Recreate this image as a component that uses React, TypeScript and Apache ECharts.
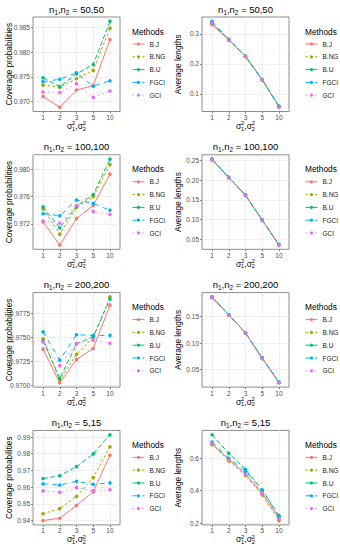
import React, { useEffect, useRef } from 'react';
import * as echarts from 'echarts';

const categories = ['1', '2', '3', '5', '10'];
const methods = ['B.J', 'B.NG', 'B.U', 'FGCI', 'GCI'];
const colors = ['#F8766D', '#A3A500', '#00BF7D', '#00B0F6', '#E76BF3'];
const dashes: any[] = ['solid', [2.4, 2.4], [4.8, 2.4], [4.8, 4.8], [1.2, 3.6]];

// Coverage probabilities (rows follow methods order)
const cp_50_50 = [
  [0.9710, 0.9688, 0.9723, 0.9732, 0.9826],
  [0.9733, 0.9729, 0.9746, 0.9763, 0.9849],
  [0.9748, 0.9730, 0.9756, 0.9775, 0.9863],
  [0.9740, 0.9745, 0.9758, 0.9731, 0.9742],
  [0.9719, 0.9718, 0.9736, 0.9708, 0.9721],
];
const cp_100_100 = [
  [0.9723, 0.9689, 0.9728, 0.9747, 0.9793],
  [0.9742, 0.9705, 0.9744, 0.9760, 0.9807],
  [0.9745, 0.9714, 0.9746, 0.9763, 0.9815],
  [0.9735, 0.9732, 0.9755, 0.9750, 0.9740],
  [0.9724, 0.9721, 0.9747, 0.9738, 0.9734],
];
const cp_200_200 = [
  [0.97375, 0.97025, 0.97268, 0.97382, 0.97832],
  [0.97482, 0.97054, 0.97321, 0.97495, 0.97918],
  [0.97464, 0.97071, 0.97429, 0.97505, 0.97893],
  [0.97554, 0.97261, 0.97525, 0.97518, 0.97518],
  [0.97450, 0.97204, 0.97436, 0.97468, 0.97436],
];
const cp_5_15 = [
  [0.9400, 0.9414, 0.9491, 0.9572, 0.9791],
  [0.9441, 0.9472, 0.9544, 0.9657, 0.9842],
  [0.9652, 0.9668, 0.9723, 0.9799, 0.9914],
  [0.9620, 0.9613, 0.9635, 0.9617, 0.9626],
  [0.9578, 0.9569, 0.9597, 0.9578, 0.9585],
];
// Average lengths
const al_50_50 = [
  [0.331, 0.280, 0.224, 0.147, 0.058],
  [0.333, 0.281, 0.225, 0.148, 0.059],
  [0.337, 0.282, 0.226, 0.148, 0.058],
  [0.342, 0.281, 0.225, 0.147, 0.059],
  [0.335, 0.280, 0.225, 0.147, 0.056],
];
const al_100_100 = [
  [0.251, 0.206, 0.161, 0.098, 0.036],
  [0.252, 0.206, 0.162, 0.099, 0.037],
  [0.253, 0.207, 0.162, 0.099, 0.037],
  [0.253, 0.207, 0.162, 0.099, 0.037],
  [0.252, 0.206, 0.161, 0.098, 0.036],
];
const al_200_200 = [
  [0.186, 0.153, 0.119, 0.071, 0.025],
  [0.186, 0.153, 0.119, 0.071, 0.026],
  [0.187, 0.153, 0.119, 0.072, 0.026],
  [0.187, 0.153, 0.119, 0.072, 0.026],
  [0.186, 0.153, 0.119, 0.071, 0.025],
];
const al_5_15 = [
  [0.688, 0.594, 0.505, 0.383, 0.232],
  [0.684, 0.583, 0.493, 0.373, 0.215],
  [0.745, 0.630, 0.531, 0.404, 0.246],
  [0.699, 0.600, 0.520, 0.404, 0.242],
  [0.693, 0.589, 0.499, 0.379, 0.225],
];

const yTicks_cp_50_50 = [0.970, 0.975, 0.980, 0.985];
const yTicks_cp_100_100 = [0.972, 0.976, 0.980];
const yTicks_cp_200_200 = [0.9700, 0.9725, 0.9750, 0.9775];
const yTicks_cp_5_15 = [0.94, 0.95, 0.96, 0.97, 0.98, 0.99];
const yTicks_al_50_50 = [0.1, 0.2, 0.3];
const yTicks_al_100_100 = [0.05, 0.10, 0.15, 0.20, 0.25];
const yTicks_al_200_200 = [0.05, 0.10, 0.15];
const yTicks_al_5_15 = [0.2, 0.4, 0.6];

const panelTitles = ['50,50', '100,100', '200,200', '5,15'];

const FONT = '"Liberation Sans", Arial, Helvetica, sans-serif';

const panels = [
  { row: 0, col: 0, data: cp_50_50, ticks: yTicks_cp_50_50, dec: 3 },
  { row: 0, col: 1, data: al_50_50, ticks: yTicks_al_50_50, dec: 1 },
  { row: 1, col: 0, data: cp_100_100, ticks: yTicks_cp_100_100, dec: 3 },
  { row: 1, col: 1, data: al_100_100, ticks: yTicks_al_100_100, dec: 2 },
  { row: 2, col: 0, data: cp_200_200, ticks: yTicks_cp_200_200, dec: 4 },
  { row: 2, col: 1, data: al_200_200, ticks: yTicks_al_200_200, dec: 2 },
  { row: 3, col: 0, data: cp_5_15, ticks: yTicks_cp_5_15, dec: 2 },
  { row: 3, col: 1, data: al_5_15, ticks: yTicks_al_5_15, dec: 1 },
];

function rangeOf(rows: number[][]) {
  const all = rows.flat();
  const lo = Math.min(...all);
  const hi = Math.max(...all);
  const p = (hi - lo) * 0.05;
  return [lo - p, hi + p];
}

function minorsOf(ticks: number[], lo: number, hi: number) {
  const step = ticks[1] - ticks[0];
  const res: number[] = [];
  for (let v = ticks[0] - step / 2; v < hi; v += step) {
    if (v > lo) res.push(+v.toFixed(6));
  }
  return res;
}

function sigmaLabel(cx: number, cy: number) {
  const big = { fontSize: 8.5, fontFamily: FONT, fill: '#000', verticalAlign: 'middle', align: 'left' };
  const small = { fontSize: 5.6, fontFamily: FONT, fill: '#000', verticalAlign: 'middle', align: 'left' };
  const x0 = cx - 9.6;
  return {
    type: 'group',
    silent: true,
    children: [
      { type: 'text', x: x0, y: cy, style: { ...big, text: 'σ' } },
      { type: 'text', x: x0 + 5, y: cy - 2.6, style: { ...small, text: '2' } },
      { type: 'text', x: x0 + 5, y: cy + 2.6, style: { ...small, text: '1' } },
      { type: 'text', x: x0 + 8.3, y: cy, style: { ...big, text: ',' } },
      { type: 'text', x: x0 + 10.8, y: cy, style: { ...big, text: 'σ' } },
      { type: 'text', x: x0 + 15.8, y: cy - 2.6, style: { ...small, text: '2' } },
      { type: 'text', x: x0 + 15.8, y: cy + 2.6, style: { ...small, text: '2' } },
    ],
  };
}

function buildOption() {
  const grids: any[] = [];
  const xAxes: any[] = [];
  const yAxes: any[] = [];
  const series: any[] = [];
  const legends: any[] = [];
  const graphics: any[] = [];
  const catPos = categories.map((_, i) => i + 1);
  const tickLine = { color: '#333333', width: 0.6 };

  panels.forEach((p, k) => {
    const W = 87;
    const H = 94.5;
    const left = p.col === 0 ? 33 : 202;
    const top = 17 + 137.8 * p.row;
    const [lo, hi] = rangeOf(p.data);
    const minors = minorsOf(p.ticks, lo, hi);

    grids.push({
      left, top, width: W, height: H, show: true,
      borderColor: '#6e6e6e', borderWidth: 0.8, backgroundColor: '#ffffff',
      containLabel: false, outerBoundsMode: 'none',
    });
    xAxes.push({
      type: 'value', gridIndex: k, min: 0.4, max: 5.6,
      axisLine: { show: false },
      axisTick: { show: true, length: 2, customValues: catPos, lineStyle: tickLine },
      axisLabel: {
        customValues: catPos,
        formatter: (v: number) => categories[Math.round(v) - 1],
        fontSize: 6.5, color: '#4d4d4d', margin: 2.5, fontFamily: FONT,
      },
      splitLine: { show: true, lineStyle: { color: '#ebebeb', width: 0.8 } },
    });
    yAxes.push({
      type: 'value', gridIndex: k, min: lo, max: hi, position: 'left',
      name: p.col === 0 ? 'Coverage probabilities' : 'Average lengths',
      nameLocation: 'middle', nameRotate: 90, nameGap: 20, nameMoveOverlap: false,
      nameTextStyle: { fontSize: 8.3, color: '#000', fontFamily: FONT },
      axisLine: { show: false },
      axisTick: { show: true, length: 2, customValues: p.ticks, lineStyle: tickLine },
      axisLabel: {
        customValues: p.ticks,
        formatter: (v: number) => v.toFixed(p.dec),
        fontSize: 6.5, color: '#4d4d4d', margin: 3, fontFamily: FONT,
      },
      splitLine: { show: true, lineStyle: { color: '#ebebeb', width: 0.8 } },
    });
    yAxes.push({
      type: 'value', gridIndex: k, min: lo, max: hi, position: 'left',
      axisLine: { show: false },
      axisTick: { show: false, customValues: minors },
      axisLabel: { show: false, customValues: minors },
      splitLine: { show: true, lineStyle: { color: '#f4f4f4', width: 0.5 } },
    });

    methods.forEach((m, j) => {
      series.push({
        type: 'line', name: m, xAxisIndex: k, yAxisIndex: 2 * k,
        data: p.data[j].map((v, i) => [catPos[i], v]),
        symbol: 'circle', symbolSize: 3.6, showSymbol: true,
        lineStyle: { color: colors[j], width: 1, type: dashes[j] },
        itemStyle: { color: colors[j] },
        emphasis: { disabled: true }, silent: true,
      });
    });

    const legLeft = p.col === 0 ? 132 : 305;
    legends.push({
      data: methods, orient: 'vertical', left: legLeft, top: top + 23,
      itemWidth: 12, itemHeight: 4, itemGap: 4.8, padding: 0, selectedMode: false,
      lineStyle: { width: 1 },
      textStyle: { fontSize: 6.5, lineHeight: 8, color: '#1a1a1a', fontFamily: FONT },
    });
    graphics.push({
      type: 'text', x: legLeft, y: top + 14.5, silent: true,
      style: { text: 'Methods', fontSize: 8.3, fontFamily: FONT, fill: '#000', verticalAlign: 'middle', align: 'left' },
    });
    graphics.push({
      type: 'text', x: left + W / 2, y: top - 8, silent: true,
      style: {
        text: `{n|n}{s|1}{n|,n}{s|2}{n| = ${panelTitles[p.row]}}`,
        align: 'center', verticalAlign: 'middle', fill: '#000',
        rich: {
          n: { fontSize: 9.5, lineHeight: 12, fontFamily: FONT, fill: '#000' },
          s: { fontSize: 6.3, lineHeight: 6, verticalAlign: 'bottom', fontFamily: FONT, fill: '#000' },
        },
      },
    });
    graphics.push(sigmaLabel(left + W / 2, top + H + 14.5));
  });

  return {
    animation: false,
    backgroundColor: '#ffffff',
    textStyle: { fontFamily: FONT },
    grid: grids,
    xAxis: xAxes,
    yAxis: yAxes,
    series,
    legend: legends,
    graphic: { elements: graphics },
  };
}

export default function App() {
  const ref = useRef<HTMLDivElement>(null);
  useEffect(() => {
    if (!ref.current) return;
    const chart = echarts.init(ref.current, null, { renderer: 'svg' });
    chart.setOption(buildOption() as any);
    return () => chart.dispose();
  }, []);
  return (
    <div
      ref={ref}
      style={{ position: 'fixed', left: 0, top: 0, width: 340, height: 550, background: '#fff' }}
    />
  );
}
